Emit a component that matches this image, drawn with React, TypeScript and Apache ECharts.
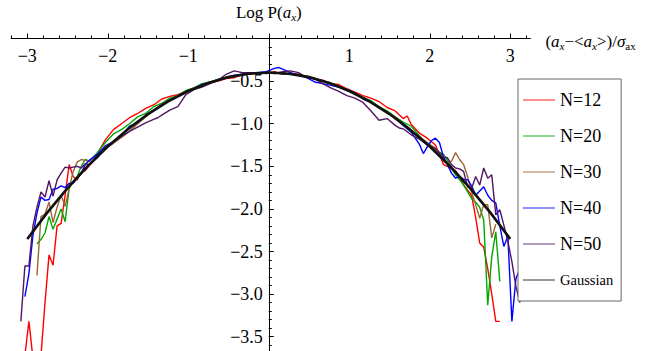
import React, { useEffect, useRef } from 'react';
import * as echarts from 'echarts';

type Pt = [number, number];

const seriesNames = ['N=12', 'N=20', 'N=30', 'N=40', 'N=50', 'Gaussian'];
const seriesColors = ['#ff0000', '#00a800', '#996633', '#0000ff', '#511660', '#111111'];

const n12: Pt[] = [
  [-3.03, -3.72], [-2.98, -3.32], [-2.93, -3.75], [-2.88, -4.3], [-2.83, -3.72], [-2.78, -3.1],
  [-2.73, -2.54], [-2.68, -2.66], [-2.63, -2.2], [-2.58, -2.17], [-2.53, -1.84], [-2.48, -1.48],
  [-2.43, -1.62], [-2.38, -1.66], [-2.33, -1.57], [-2.28, -1.55], [-2.23, -1.49], [-2.18, -1.44],
  [-2.13, -1.35], [-2.03, -1.19], [-1.93, -1.07], [-1.83, -1.0], [-1.73, -0.93], [-1.63, -0.88],
  [-1.53, -0.82], [-1.43, -0.78], [-1.33, -0.71], [-1.23, -0.68], [-1.13, -0.66], [-1.03, -0.62],
  [-0.93, -0.59], [-0.83, -0.54], [-0.73, -0.52], [-0.63, -0.5], [-0.53, -0.47], [-0.43, -0.46],
  [-0.33, -0.42], [-0.23, -0.42], [-0.13, -0.4], [-0.03, -0.41], [0.07, -0.39], [0.17, -0.42],
  [0.27, -0.41], [0.37, -0.42], [0.47, -0.45], [0.57, -0.48], [0.67, -0.49], [0.77, -0.53],
  [0.87, -0.54], [0.97, -0.59], [1.07, -0.63], [1.17, -0.67], [1.27, -0.7], [1.37, -0.74],
  [1.47, -0.81], [1.57, -0.85], [1.67, -0.94], [1.72, -0.91], [1.77, -1.01], [1.87, -1.11],
  [1.97, -1.17], [2.07, -1.25], [2.12, -1.36], [2.17, -1.48], [2.22, -1.5], [2.27, -1.52],
  [2.32, -1.55], [2.37, -1.62], [2.42, -1.72], [2.47, -1.78], [2.52, -1.84], [2.57, -2.1],
  [2.62, -2.4], [2.67, -2.45], [2.72, -2.7], [2.77, -3.0], [2.82, -3.32], [2.87, -3.32],
];

const n20: Pt[] = [
  [-2.88, -2.41], [-2.83, -2.36], [-2.78, -2.28], [-2.73, -2.09], [-2.68, -2.24], [-2.63, -2.12],
  [-2.58, -2.0], [-2.53, -2.15], [-2.48, -1.76], [-2.43, -1.68], [-2.38, -1.62], [-2.33, -1.5],
  [-2.28, -1.42], [-2.23, -1.44], [-2.13, -1.34], [-2.03, -1.22], [-1.93, -1.12], [-1.83, -1.07],
  [-1.73, -1.0], [-1.63, -0.92], [-1.53, -0.88], [-1.43, -0.8], [-1.33, -0.76], [-1.23, -0.7],
  [-1.13, -0.67], [-1.03, -0.61], [-0.93, -0.58], [-0.83, -0.53], [-0.73, -0.51], [-0.63, -0.48],
  [-0.53, -0.46], [-0.43, -0.44], [-0.33, -0.42], [-0.23, -0.4], [-0.13, -0.41], [-0.03, -0.4],
  [0.07, -0.41], [0.17, -0.4], [0.27, -0.42], [0.37, -0.43], [0.47, -0.44], [0.57, -0.47],
  [0.67, -0.5], [0.77, -0.52], [0.87, -0.56], [0.97, -0.6], [1.07, -0.64], [1.17, -0.69],
  [1.27, -0.73], [1.37, -0.8], [1.47, -0.85], [1.57, -0.92], [1.67, -0.98], [1.77, -1.03],
  [1.87, -1.14], [1.97, -1.24], [2.07, -1.31], [2.17, -1.36], [2.22, -1.43], [2.27, -1.52],
  [2.32, -1.6], [2.37, -1.66], [2.42, -1.72], [2.47, -1.8], [2.52, -1.88], [2.57, -1.92],
  [2.62, -1.98], [2.67, -2.13], [2.72, -3.13], [2.77, -2.56], [2.82, -2.27], [2.87, -2.85],
];

const n30: Pt[] = [
  [-2.88, -2.78], [-2.83, -2.09], [-2.78, -2.06], [-2.73, -1.92], [-2.68, -2.16], [-2.63, -1.98],
  [-2.58, -1.84], [-2.53, -1.97], [-2.48, -1.76], [-2.43, -1.56], [-2.38, -1.45], [-2.33, -1.42],
  [-2.28, -1.43], [-2.23, -1.44], [-2.13, -1.36], [-2.03, -1.29], [-1.93, -1.23], [-1.83, -1.16],
  [-1.73, -1.09], [-1.63, -1.0], [-1.53, -0.92], [-1.43, -0.84], [-1.33, -0.77], [-1.23, -0.72],
  [-1.13, -0.67], [-1.03, -0.63], [-0.93, -0.58], [-0.83, -0.55], [-0.73, -0.51], [-0.63, -0.49],
  [-0.53, -0.45], [-0.43, -0.44], [-0.33, -0.43], [-0.23, -0.41], [-0.13, -0.4], [-0.03, -0.41],
  [0.07, -0.4], [0.17, -0.41], [0.27, -0.42], [0.37, -0.42], [0.47, -0.45], [0.57, -0.47],
  [0.67, -0.5], [0.77, -0.53], [0.87, -0.57], [0.97, -0.6], [1.07, -0.65], [1.17, -0.69],
  [1.27, -0.75], [1.37, -0.8], [1.47, -0.87], [1.57, -0.92], [1.67, -1.0], [1.77, -1.08],
  [1.87, -1.15], [1.97, -1.22], [2.07, -1.29], [2.17, -1.42], [2.22, -1.45], [2.27, -1.44],
  [2.32, -1.34], [2.37, -1.42], [2.42, -1.48], [2.47, -1.62], [2.52, -1.8], [2.57, -1.95],
  [2.62, -2.11], [2.67, -1.95], [2.72, -1.95], [2.77, -2.34], [2.82, -2.18],
];

const n40: Pt[] = [
  [-3.03, -3.03], [-2.98, -2.76], [-2.93, -2.31], [-2.88, -2.05], [-2.83, -1.86], [-2.78, -1.9],
  [-2.73, -1.89], [-2.68, -1.77], [-2.63, -1.76], [-2.58, -1.73], [-2.53, -1.75], [-2.48, -1.7],
  [-2.43, -1.7], [-2.38, -1.64], [-2.33, -1.58], [-2.28, -1.48], [-2.23, -1.43], [-2.13, -1.36],
  [-2.03, -1.26], [-1.93, -1.21], [-1.83, -1.14], [-1.73, -1.03], [-1.63, -0.99], [-1.53, -0.9],
  [-1.43, -0.84], [-1.33, -0.78], [-1.23, -0.72], [-1.13, -0.68], [-1.03, -0.62], [-0.93, -0.59],
  [-0.83, -0.54], [-0.73, -0.52], [-0.63, -0.48], [-0.53, -0.46], [-0.43, -0.43], [-0.33, -0.42],
  [-0.23, -0.41], [-0.13, -0.4], [-0.03, -0.39], [0.07, -0.35], [0.12, -0.34], [0.17, -0.36],
  [0.27, -0.4], [0.37, -0.43], [0.47, -0.46], [0.57, -0.51], [0.67, -0.53], [0.77, -0.55],
  [0.87, -0.57], [0.97, -0.61], [1.07, -0.64], [1.17, -0.71], [1.27, -0.75], [1.37, -0.81],
  [1.47, -0.87], [1.57, -0.93], [1.67, -1.02], [1.77, -1.1], [1.87, -1.24], [1.92, -1.35],
  [1.97, -1.27], [2.02, -1.2], [2.07, -1.17], [2.12, -1.22], [2.17, -1.39], [2.22, -1.48],
  [2.27, -1.58], [2.32, -1.64], [2.37, -1.62], [2.42, -1.65], [2.47, -1.66], [2.52, -1.73],
  [2.57, -1.84], [2.62, -1.79], [2.67, -1.74], [2.72, -1.84], [2.77, -1.9], [2.82, -1.93],
  [2.87, -2.2], [2.92, -2.44], [2.97, -2.32], [3.02, -3.32], [3.07, -2.82], [3.12, -2.7],
];

const n50: Pt[] = [
  [-3.08, -3.32], [-3.03, -2.67], [-2.98, -2.67], [-2.93, -2.2], [-2.88, -1.98], [-2.83, -1.8],
  [-2.78, -1.86], [-2.73, -1.67], [-2.68, -1.85], [-2.63, -1.66], [-2.58, -1.58], [-2.53, -1.51],
  [-2.48, -1.52], [-2.43, -1.51], [-2.38, -1.5], [-2.33, -1.52], [-2.28, -1.47], [-2.23, -1.48],
  [-2.13, -1.4], [-2.03, -1.27], [-1.93, -1.21], [-1.83, -1.15], [-1.73, -1.09], [-1.63, -1.04],
  [-1.53, -0.99], [-1.43, -0.95], [-1.38, -0.93], [-1.33, -0.9], [-1.23, -0.84], [-1.18, -0.82],
  [-1.13, -0.8], [-1.03, -0.66], [-0.93, -0.6], [-0.83, -0.57], [-0.73, -0.53], [-0.63, -0.49],
  [-0.53, -0.42], [-0.43, -0.38], [-0.33, -0.4], [-0.23, -0.4], [-0.13, -0.41], [-0.03, -0.4],
  [0.07, -0.41], [0.17, -0.39], [0.27, -0.38], [0.37, -0.4], [0.47, -0.46], [0.57, -0.47],
  [0.67, -0.53], [0.77, -0.58], [0.87, -0.62], [0.97, -0.67], [1.07, -0.7], [1.17, -0.75],
  [1.27, -0.85], [1.37, -0.96], [1.47, -0.94], [1.57, -1.02], [1.62, -1.05], [1.67, -1.06],
  [1.77, -1.13], [1.87, -1.18], [1.97, -1.25], [2.07, -1.29], [2.17, -1.39], [2.22, -1.4],
  [2.27, -1.48], [2.32, -1.52], [2.37, -1.53], [2.42, -1.56], [2.47, -1.74], [2.52, -1.76],
  [2.57, -1.62], [2.62, -1.72], [2.67, -1.52], [2.72, -1.64], [2.77, -1.6], [2.82, -2.07],
  [2.87, -2.01], [2.92, -2.19], [2.97, -2.38], [3.02, -2.62], [3.07, -2.91], [3.12, -3.1],
];

const gaussian: Pt[] = [
  [-3, -2.353], [-2.75, -2.041], [-2.5, -1.756], [-2.25, -1.498], [-2, -1.267], [-1.75, -1.064],
  [-1.5, -0.887], [-1.25, -0.738], [-1, -0.616], [-0.75, -0.521], [-0.5, -0.453], [-0.25, -0.413],
  [0, -0.399], [0.25, -0.413], [0.5, -0.453], [0.75, -0.521], [1, -0.616], [1.25, -0.738],
  [1.5, -0.887], [1.75, -1.064], [2, -1.267], [2.25, -1.498], [2.5, -1.756], [2.75, -2.041],
  [3, -2.353],
];

const xMajorTicks = [-3, -2, -1, 0, 1, 2, 3];
const xTickLabels = [-3, -2, -1, 1, 2, 3];
const yTickLabels = [-0.5, -1, -1.5, -2, -2.5, -3, -3.5];
const xMinorTicks: number[] = [];
for (let i = -16; i <= 16; i++) xMinorTicks.push(Math.round(i * 20) / 100);

const FONT = '"Liberation Serif", "Times New Roman", serif';
const minus = (v: number, digits: number) =>
  (v < 0 ? '\u2212' : '') + Math.abs(v).toFixed(digits);

const X_MIN = -3.2;
const X_MAX = 3.25;
const Y_MIN = -4;
const Y_MAX = 0;
const GRID_LEFT = 11.2;
const GRID_TOP = 38.5;
const GRID_W = 519.2;
const GRID_H = 340.8;
const Y_AXIS_LEFT = GRID_LEFT + (0 - X_MIN) / (X_MAX - X_MIN) * GRID_W;

export default function App() {
  const ref = useRef<HTMLDivElement>(null);
  useEffect(() => {
    if (!ref.current) return;
    const chart = echarts.init(ref.current, undefined, { renderer: 'svg' });
    const dataSets = [n12, n20, n30, n40, n50, gaussian];
    const subRich = {
      p: { fontFamily: FONT, fontSize: 17, color: '#000', lineHeight: 20 },
      i: { fontFamily: FONT, fontSize: 17, fontStyle: 'italic', color: '#000', lineHeight: 20 },
      s: { fontFamily: FONT, fontSize: 11, fontStyle: 'italic', color: '#000', verticalAlign: 'bottom', lineHeight: 12 },
      u: { fontFamily: FONT, fontSize: 11, color: '#000', verticalAlign: 'bottom', lineHeight: 12 },
    };
    const option: any = {
      animation: false,
      textStyle: { fontFamily: FONT },
      grid: [
        { left: GRID_LEFT, top: GRID_TOP, width: GRID_W, height: GRID_H, containLabel: false, outerBoundsMode: 'none' },
        { left: Y_AXIS_LEFT, top: GRID_TOP, width: 100, height: GRID_H, containLabel: false, outerBoundsMode: 'none' },
      ],
      xAxis: [
        {
          type: 'value', gridIndex: 0, min: X_MIN, max: X_MAX, position: 'top',
          axisLine: { onZero: false, lineStyle: { color: '#000', width: 1 } },
          axisTick: { show: true, inside: false, length: 5, customValues: xMajorTicks, lineStyle: { color: '#000' } },
          axisLabel: {
            show: true, inside: true, margin: 8, customValues: xTickLabels,
            formatter: (v: number) => minus(v, 0),
            color: '#000', fontSize: 18, fontFamily: FONT,
          },
          splitLine: { show: false },
          name: '{p|(}{i|a}{s|x}{p|\u2212<}{i|a}{s|x}{p|>)/}{i|\u03c3}{u|ax}',
          nameLocation: 'end', nameGap: 15,
          nameTextStyle: { fontFamily: FONT, fontSize: 17, color: '#000', padding: [6, 0, 0, 0], rich: subRich },
        },
        {
          type: 'value', gridIndex: 0, min: X_MIN, max: X_MAX, position: 'top',
          axisLine: { show: false, onZero: false },
          axisTick: { show: true, inside: false, length: 3, customValues: xMinorTicks, lineStyle: { color: '#000' } },
          axisLabel: { show: false },
          splitLine: { show: false },
        },
        {
          type: 'value', gridIndex: 1, min: 0, max: 1, show: false,
        },
      ],
      yAxis: [
        {
          type: 'value', gridIndex: 0, min: Y_MIN, max: Y_MAX, show: false,
          splitLine: { show: false },
        },
        {
          type: 'value', gridIndex: 1, min: Y_MIN, max: Y_MAX, interval: 0.5, position: 'left',
          axisLine: { show: true, onZero: false, lineStyle: { color: '#000', width: 1 } },
          axisTick: { show: true, inside: true, length: 5, lineStyle: { color: '#000' } },
          minorTick: { show: true, splitNumber: 5, length: 3, lineStyle: { color: '#000' } },
          axisLabel: {
            margin: 6, color: '#000', fontSize: 18, fontFamily: FONT,
            customValues: yTickLabels,
            formatter: (v: number) => minus(v, 1),
          },
          splitLine: { show: false },
          name: '{p|Log P(}{i|a}{s|x}{p|)}',
          nameLocation: 'end', nameGap: 16,
          nameTextStyle: { fontFamily: FONT, fontSize: 17, color: '#000', rich: subRich },
        },
      ],
      legend: {
        orient: 'vertical', left: 518, top: 79,
        padding: [11, 8, 11, 5],
        itemWidth: 32, itemHeight: 1.6, itemGap: 16,
        icon: 'rect',
        backgroundColor: '#fff', borderColor: '#666', borderWidth: 1,
        selectedMode: false,
        itemStyle: { opacity: 0.55 },
        textStyle: { fontFamily: FONT, fontSize: 18, color: '#000', lineHeight: 20 },
        data: seriesNames.map((name, i) =>
          i === 5
            ? { name, textStyle: { fontSize: 14.5, fontFamily: FONT, lineHeight: 20 } }
            : { name }
        ),
      },
      series: seriesNames.map((name, i) => ({
        name, type: 'line', data: dataSets[i], xAxisIndex: 0, yAxisIndex: 0,
        showSymbol: false, symbol: 'none', color: seriesColors[i],
        lineStyle: { color: seriesColors[i], width: i === 5 ? 2.6 : 1.4 },
        emphasis: { disabled: true },
        z: i === 5 ? 3 : 2,
      })),
    };
    chart.setOption(option);
    return () => chart.dispose();
  }, []);
  return (
    <div
      ref={ref}
      style={{ position: 'fixed', left: 0, top: 0, width: 657, height: 351, background: '#fff' }}
    />
  );
}
